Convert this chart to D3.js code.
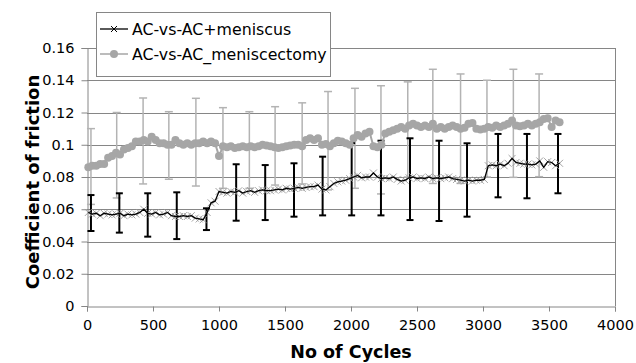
<!DOCTYPE html>
<html>
<head>
    <script src="https://d3js.org/d3.v7.min.js"></script>
    <style>
        body { margin: 0; background: #fff; }
        text { font-family: "DejaVu Sans", sans-serif; }
    </style>
</head>
<body>
    <div id="chart"></div>
    <script>
        // Cycle numbers where each point was measured
        var cycles = [10, 40, 70, 100, 130, 160, 190, 220, 250, 280, 310, 340, 370, 400, 430, 460, 490, 520, 550, 580,
            610, 640, 670, 700, 730, 760, 790, 820, 850, 880, 910, 940, 970, 1000, 1030, 1060, 1090, 1120, 1150, 1180,
            1210, 1240, 1270, 1300, 1330, 1360, 1390, 1420, 1450, 1480, 1510, 1540, 1570, 1600, 1630, 1660, 1690, 1720, 1750, 1780,
            1810, 1840, 1870, 1900, 1930, 1960, 1990, 2020, 2050, 2080, 2110, 2140, 2170, 2200, 2230, 2260, 2290, 2320, 2350, 2380,
            2410, 2440, 2470, 2500, 2530, 2560, 2590, 2620, 2650, 2680, 2710, 2740, 2770, 2800, 2830, 2860, 2890, 2920, 2950, 2980,
            3010, 3040, 3070, 3100, 3130, 3160, 3190, 3220, 3250, 3280, 3310, 3340, 3370, 3400, 3430, 3460, 3490, 3520, 3550, 3580];

        // AC-vs-AC+meniscus (black line with x markers)
        var meniscus = [0.058, 0.057, 0.0575, 0.056, 0.0575, 0.057, 0.0565, 0.057, 0.0575, 0.056, 0.057, 0.0565, 0.057, 0.058, 0.060, 0.0575, 0.057, 0.058, 0.0565, 0.057,
            0.058, 0.056, 0.0555, 0.0555, 0.056, 0.0555, 0.056, 0.0545, 0.054, 0.0535, 0.058, 0.064, 0.065, 0.071, 0.0705, 0.070, 0.071, 0.0705, 0.0715, 0.070,
            0.071, 0.0715, 0.0705, 0.0715, 0.072, 0.0715, 0.0715, 0.072, 0.0725, 0.072, 0.073, 0.0725, 0.073, 0.0735, 0.073, 0.0735, 0.074, 0.074, 0.075, 0.0725,
            0.072, 0.074, 0.076, 0.077, 0.0775, 0.078, 0.079, 0.080, 0.081, 0.0795, 0.080, 0.080, 0.0825, 0.080, 0.079, 0.0795, 0.079, 0.080, 0.0785, 0.0775,
            0.078, 0.0795, 0.080, 0.079, 0.0795, 0.079, 0.080, 0.079, 0.0795, 0.079, 0.0795, 0.080, 0.079, 0.0785, 0.078, 0.0775, 0.078, 0.0775, 0.078, 0.078,
            0.0785, 0.087, 0.0875, 0.087, 0.088, 0.087, 0.0885, 0.0915, 0.089, 0.0885, 0.088, 0.088, 0.0875, 0.088, 0.090, 0.086, 0.0895, 0.089, 0.087, 0.0885];

        // AC-vs-AC_meniscectomy (grey dots)
        var meniscectomy = [0.086, 0.087, 0.087, 0.088, 0.088, 0.092, 0.093, 0.095, 0.094, 0.097, 0.098, 0.099, 0.102, 0.102, 0.103, 0.102, 0.105, 0.103, 0.101, 0.101,
            0.100, 0.100, 0.103, 0.101, 0.100, 0.101, 0.100, 0.101, 0.101, 0.102, 0.101, 0.102, 0.101, 0.093, 0.099, 0.0985, 0.099, 0.098, 0.0985, 0.099,
            0.0985, 0.099, 0.0985, 0.099, 0.100, 0.0995, 0.099, 0.0985, 0.098, 0.0985, 0.099, 0.0995, 0.100, 0.100, 0.099, 0.103, 0.104, 0.103, 0.104, 0.100,
            0.1005, 0.099, 0.101, 0.1025, 0.102, 0.101, 0.100, 0.104, 0.106, 0.105, 0.107, 0.108, 0.099, 0.0985, 0.100, 0.107, 0.108, 0.109, 0.110, 0.111,
            0.110, 0.112, 0.113, 0.112, 0.111, 0.112, 0.111, 0.113, 0.110, 0.111, 0.110, 0.111, 0.112, 0.111, 0.110, 0.1105, 0.113, 0.1135, 0.110, 0.1095,
            0.110, 0.111, 0.1105, 0.112, 0.111, 0.112, 0.113, 0.115, 0.112, 0.1115, 0.112, 0.113, 0.112, 0.113, 0.114, 0.116, 0.1165, 0.111, 0.115, 0.114];

        // Error bars (read as upper / lower ends)
        var barCyclesA = [30, 245, 460, 680, 905, 1130, 1350, 1568, 1785, 2005, 2227, 2447, 2667, 2879, 3114, 3333, 3568];
        var barHighA = [0.0688, 0.0699, 0.0699, 0.0705, 0.0606, 0.0879, 0.0874, 0.0885, 0.0926, 0.101, 0.1025, 0.104, 0.1025, 0.1009, 0.1067, 0.1067, 0.1067];
        var barLowA = [0.0465, 0.0455, 0.043, 0.0415, 0.0471, 0.0529, 0.0533, 0.0554, 0.0562, 0.0562, 0.0562, 0.0533, 0.0527, 0.0554, 0.0674, 0.0668, 0.0699];

        var barCyclesB = [30, 225, 425, 620, 825, 1030, 1230, 1425, 1630, 1826, 2030, 2227, 2430, 2620, 2830, 3030, 3230, 3425];
        var barHighB = [0.110, 0.120, 0.129, 0.1205, 0.1288, 0.123, 0.1205, 0.1236, 0.126, 0.133, 0.135, 0.1366, 0.139, 0.1468, 0.1439, 0.140, 0.1468, 0.1439];
        var barLowB = [0.063, 0.067, 0.0757, 0.0786, 0.0744, 0.073, 0.073, 0.075, 0.0757, 0.072, 0.073, 0.0695, 0.080, 0.076, 0.076, 0.080, 0.0798, 0.0802];

        var xTicks = [0, 500, 1000, 1500, 2000, 2500, 3000, 3500, 4000];
        var yTicks = [0, 0.02, 0.04, 0.06, 0.08, 0.1, 0.12, 0.14, 0.16];
        var seriesNames = ["AC-vs-AC+meniscus", "AC-vs-AC_meniscectomy"];

        var W = 636, H = 363;
        var plotLeft = 87, plotRight = 615, plotTop = 48, plotBottom = 306;
        var axisGrey = "#868686";

        var svg = d3.select("#chart").append("svg")
            .attr("width", W)
            .attr("height", H);

        var x = d3.scaleLinear().domain([0, 4000]).range([plotLeft, plotRight]);
        var y = d3.scaleLinear().domain([0, 0.16]).range([plotBottom, plotTop]);

        // Grid lines
        svg.append("g").selectAll("line")
            .data(yTicks.slice(1))
            .enter().append("line")
            .attr("x1", plotLeft).attr("x2", plotRight)
            .attr("y1", function(d) { return Math.round(y(d)) + 0.5; })
            .attr("y2", function(d) { return Math.round(y(d)) + 0.5; })
            .attr("stroke", axisGrey)
            .attr("stroke-width", 1);

        // right frame
        svg.append("line")
            .attr("x1", plotRight + 0.5).attr("x2", plotRight + 0.5)
            .attr("y1", plotTop).attr("y2", plotBottom)
            .attr("stroke", axisGrey);

        // Axes
        var yAxis = svg.append("g")
            .attr("transform", "translate(" + (plotLeft + 0.5) + ",0)")
            .call(d3.axisLeft(y).tickValues(yTicks).tickSize(6).tickPadding(7)
                .tickFormat(function(d) { return d === 0 ? "0" : String(+d.toFixed(2)); }));

        var xAxis = svg.append("g")
            .attr("transform", "translate(0," + (plotBottom + 0.5) + ")")
            .call(d3.axisBottom(x).tickValues(xTicks).tickSize(5).tickPadding(8).tickFormat(d3.format("d")));

        [yAxis, xAxis].forEach(function(a) {
            a.select(".domain").attr("stroke", axisGrey);
            a.selectAll(".tick line").attr("stroke", axisGrey);
            a.selectAll(".tick text")
                .attr("fill", "#000")
                .style("font-family", "DejaVu Sans")
                .style("font-size", "14.5px");
        });

        // Grey series error bars
        var gB = svg.append("g").attr("stroke", "#b3b3b3").attr("stroke-width", 1.5);
        barCyclesB.forEach(function(c, i) {
            gB.append("line").attr("x1", x(c)).attr("x2", x(c)).attr("y1", y(barHighB[i])).attr("y2", y(barLowB[i]));
            gB.append("line").attr("x1", x(c) - 4).attr("x2", x(c) + 4).attr("y1", y(barHighB[i])).attr("y2", y(barHighB[i]));
            gB.append("line").attr("x1", x(c) - 4).attr("x2", x(c) + 4).attr("y1", y(barLowB[i])).attr("y2", y(barLowB[i]));
        });

        // Black series error bars
        var gA = svg.append("g").attr("stroke", "#000").attr("stroke-width", 2);
        barCyclesA.forEach(function(c, i) {
            gA.append("line").attr("x1", x(c)).attr("x2", x(c)).attr("y1", y(barHighA[i])).attr("y2", y(barLowA[i]));
            gA.append("line").attr("x1", x(c) - 3.5).attr("x2", x(c) + 3.5).attr("y1", y(barHighA[i])).attr("y2", y(barHighA[i]));
            gA.append("line").attr("x1", x(c) - 3.5).attr("x2", x(c) + 3.5).attr("y1", y(barLowA[i])).attr("y2", y(barLowA[i]));
        });

        var line = d3.line()
            .x(function(d, i) { return x(cycles[i]); })
            .y(function(d) { return y(d); });

        // Grey series: faint line under the dots
        svg.append("path")
            .datum(meniscectomy)
            .attr("d", line)
            .attr("fill", "none")
            .attr("stroke", "#a6a6a6")
            .attr("stroke-width", 2);

        svg.append("g").selectAll("circle")
            .data(meniscectomy)
            .enter().append("circle")
            .attr("cx", function(d, i) { return x(cycles[i]); })
            .attr("cy", function(d) { return y(d); })
            .attr("r", 4)
            .attr("fill", "#a6a6a6");

        // Black series: x markers then line
        var s = 3.5;
        svg.append("g").selectAll("path")
            .data(meniscus)
            .enter().append("path")
            .attr("d", function(d, i) {
                var cx = x(cycles[i]), cy = y(d);
                return "M" + (cx - s) + "," + (cy - s) + "L" + (cx + s) + "," + (cy + s) +
                    "M" + (cx - s) + "," + (cy + s) + "L" + (cx + s) + "," + (cy - s);
            })
            .attr("stroke", "#999")
            .attr("stroke-width", 0.9);

        svg.append("path")
            .datum(meniscus)
            .attr("d", line)
            .attr("fill", "none")
            .attr("stroke", "#000")
            .attr("stroke-width", 1.3);

        // Axis titles
        svg.append("text")
            .attr("transform", "translate(39," + 182 + ") rotate(-90)")
            .attr("text-anchor", "middle")
            .style("font-weight", "bold")
            .style("font-size", "18px")
            .text("Coefficient of friction");

        svg.append("text")
            .attr("x", 351)
            .attr("y", 358)
            .attr("text-anchor", "middle")
            .style("font-weight", "bold")
            .style("font-size", "17.5px")
            .text("No of Cycles");

        // Legend
        var legend = svg.append("g");
        legend.append("rect")
            .attr("x", 96.5).attr("y", 12.5)
            .attr("width", 234).attr("height", 64)
            .attr("fill", "#fff")
            .attr("stroke", axisGrey);

        legend.append("line")
            .attr("x1", 100).attr("x2", 128).attr("y1", 29).attr("y2", 29)
            .attr("stroke", "#000").attr("stroke-width", 1.3);
        legend.append("path")
            .attr("d", "M111,26L117,32M111,32L117,26")
            .attr("stroke", "#000").attr("stroke-width", 1);

        legend.append("line")
            .attr("x1", 100).attr("x2", 128).attr("y1", 54).attr("y2", 54)
            .attr("stroke", "#a6a6a6").attr("stroke-width", 1.5);
        legend.append("circle")
            .attr("cx", 114).attr("cy", 54).attr("r", 4)
            .attr("fill", "#a6a6a6");

        legend.selectAll("text.lab")
            .data(seriesNames)
            .enter().append("text")
            .attr("class", "lab")
            .attr("x", 132)
            .attr("y", function(d, i) { return 35 + i * 25; })
            .style("font-size", "15.8px")
            .text(function(d) { return d; });
    </script>
</body>
</html>
